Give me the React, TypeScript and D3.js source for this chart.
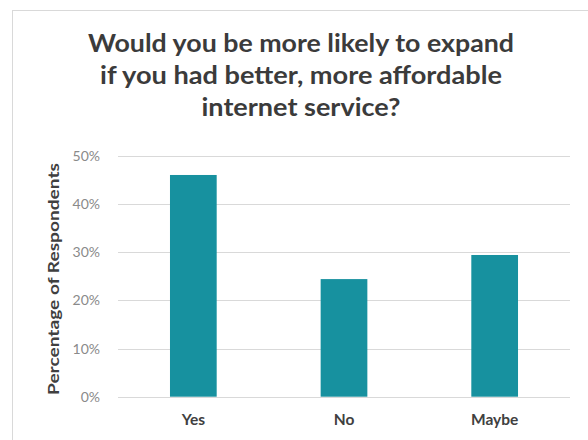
import React from "react";
import * as d3 from "d3";

const categories = ["Yes", "No", "Maybe"];
const values = [0.46, 0.244, 0.294];
const yTicks = [0, 0.1, 0.2, 0.3, 0.4, 0.5];
const titleLines = [
  "Would you be more likely to expand",
  "if you had better, more affordable",
  "internet service?",
];
const titleWidths = [426, 402, 199];
const yAxisTitle = "Percentage of Respondents";

const W = 588;
const H = 440;
const FONT = "Lato, 'Open Sans', sans-serif";

export default function App() {
  const x = d3
    .scaleBand<string>()
    .domain(categories)
    .range([118, 570])
    .paddingInner(0.69)
    .paddingOuter(0.345);
  const y = d3.scaleLinear().domain([0, 0.5]).range([396.7, 155.7]);
  const fmt = d3.format(".0%");

  return (
    <svg
      width={W}
      height={H}
      style={{ position: "absolute", left: 0, top: 0, background: "#fff" }}
    >
      <rect x={12.5} y={10.5} width={W} height={H} fill="#fff" stroke="#d9d9d9" strokeWidth={1} />
      {titleLines.map((t, i) => (
        <text
          key={i}
          x={301}
          y={52 + i * 32}
          textAnchor="middle"
          fontFamily={FONT}
          fontWeight="bold"
          fontSize={25}
          fill="#3b3b3b"
          textLength={titleWidths[i]}
          lengthAdjust="spacingAndGlyphs"
        >
          {t}
        </text>
      ))}
      {yTicks.map((t) => (
        <g key={t}>
          <line
            x1={118}
            x2={570}
            y1={Math.round(y(t)) + 0.5}
            y2={Math.round(y(t)) + 0.5}
            stroke="#d9d9d9"
            strokeWidth={1}
          />
          <text
            x={100}
            y={y(t) + 5}
            textAnchor="end"
            fontFamily={FONT}
            fontSize={14}
            fill="#8a8a8a"
          >
            {fmt(t)}
          </text>
        </g>
      ))}
      {categories.map((c, i) => (
        <rect
          key={c}
          x={x(c)}
          y={y(values[i])}
          width={x.bandwidth()}
          height={y(0) - y(values[i])}
          fill="#17919f"
        />
      ))}
      {categories.map((c) => (
        <text
          key={c}
          x={(x(c) as number) + x.bandwidth() / 2}
          y={425}
          textAnchor="middle"
          fontFamily={FONT}
          fontWeight="bold"
          fontSize={15.5}
          fill="#404040"
        >
          {c}
        </text>
      ))}
      <text
        transform={`translate(59,279) rotate(-90)`}
        textAnchor="middle"
        fontFamily={FONT}
        fontWeight="bold"
        fontSize={16}
        fill="#404040"
        textLength={232}
        lengthAdjust="spacingAndGlyphs"
      >
        {yAxisTitle}
      </text>
    </svg>
  );
}
